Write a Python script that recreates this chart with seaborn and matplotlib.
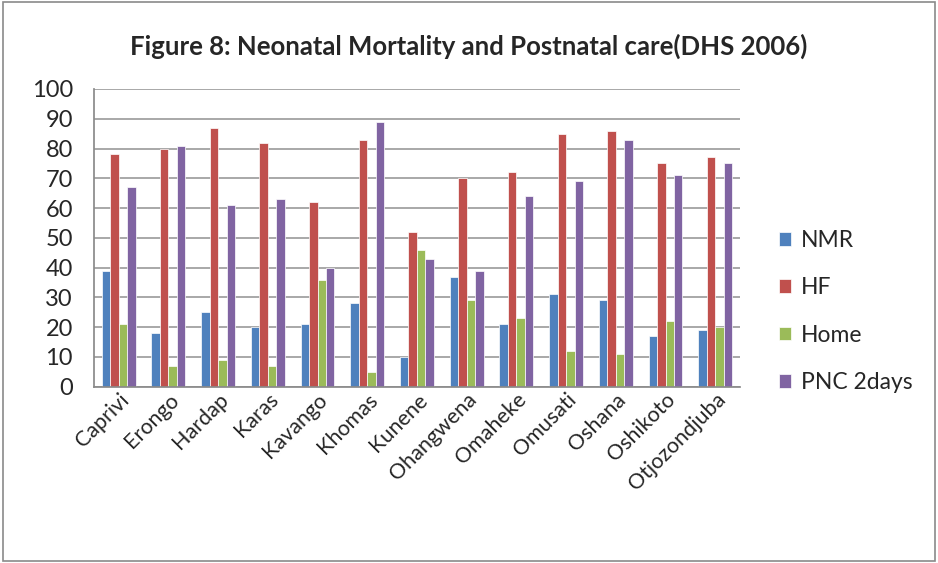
import matplotlib
matplotlib.use("Agg")
import matplotlib.pyplot as plt
import seaborn as sns
import pandas as pd
from matplotlib.patches import Rectangle

# data
regions = ["Caprivi", "Erongo", "Hardap", "Karas", "Kavango", "Khomas", "Kunene",
           "Ohangwena", "Omaheke", "Omusati", "Oshana", "Oshikoto", "Otjozondjuba"]
nmr = [39, 18, 25, 20, 21, 28, 10, 37, 21, 31, 29, 17, 19]
hf = [78, 80, 87, 82, 62, 83, 52, 70, 72, 85, 86, 75, 77]
home = [21, 7, 9, 7, 36, 5, 46, 29, 23, 12, 11, 22, 20]
pnc = [67, 81, 61, 63, 40, 89, 43, 39, 64, 69, 83, 71, 75]
series = ["NMR", "HF", "Home", "PNC 2days"]
colors = ["#4F81BD", "#C0504D", "#9BBB59", "#8064A2"]

rows = []
for name, vals in zip(series, [nmr, hf, home, pnc]):
    for r, v in zip(regions, vals):
        rows.append({"Region": r, "Series": name, "Value": v})
df = pd.DataFrame(rows)

sns.set_theme(style="white")
plt.rcParams["font.family"] = ["Lato", "DejaVu Sans"]

fig = plt.figure(figsize=(9.38, 5.63), dpi=100)
ax = fig.add_axes([0.100, 0.313, 0.689, 0.529])

sns.barplot(data=df, x="Region", y="Value", hue="Series", palette=colors,
            width=0.68, ax=ax, saturation=1, edgecolor="white", linewidth=0.5)

ax.set_ylim(0, 100)
ax.set_yticks(range(0, 101, 10))
ax.yaxis.grid(True, color="#9a9a9a", linewidth=1.2)
ax.set_axisbelow(True)
ax.set_xlabel("")
ax.set_ylabel("")
for s in ["top", "right"]:
    ax.spines[s].set_visible(False)
ax.spines["left"].set_color("#8a8a8a")
ax.spines["bottom"].set_color("#8a8a8a")
ax.tick_params(axis="y", labelsize=17, length=0, pad=15)
ax.tick_params(axis="x", labelsize=15.5, length=0, pad=2)
plt.setp(ax.get_xticklabels(), rotation=45, ha="right", rotation_mode="anchor")

ax.legend(loc="center left", bbox_to_anchor=(1.028, 0.253), frameon=False,
          fontsize=16.5, handlelength=0.55, handleheight=0.55, labelspacing=1.15,
          handletextpad=0.4)

fig.suptitle("Figure 8: Neonatal Mortality and Postnatal care(DHS 2006)",
             fontsize=18.5, fontweight="bold", y=0.94)

# grey frame round the chart
fig.patches.append(Rectangle((0.003, 0.003), 0.994, 0.994, transform=fig.transFigure,
                             fill=False, edgecolor="#8a8a8a", linewidth=1.2))

plt.savefig("out.png", dpi=100)
